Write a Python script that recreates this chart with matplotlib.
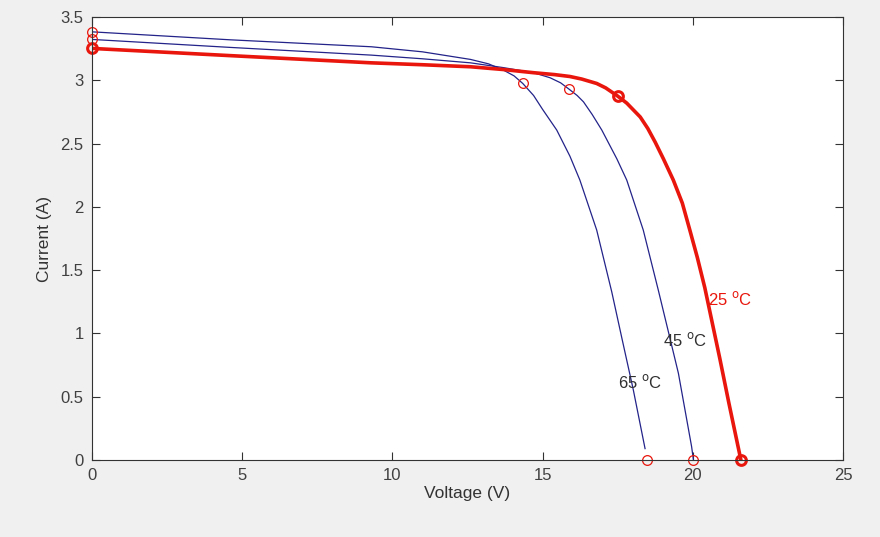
import matplotlib
matplotlib.use('Agg')
import matplotlib.pyplot as plt

plt.rcParams['font.family'] = ['Liberation Sans', 'DejaVu Sans']

# kurva I-V tiap suhu
v65 = [0, 4.6, 9.3, 11.0, 12.6, 13.2, 13.7, 14.05, 14.34, 14.7, 15.0, 15.47, 15.91, 16.24, 16.8, 17.3, 17.65, 18.02, 18.41]
i65 = [3.383, 3.32, 3.265, 3.225, 3.165, 3.13, 3.08, 3.035, 2.975, 2.88, 2.77, 2.607, 2.40, 2.212, 1.817, 1.33, 0.95, 0.553, 0.09]

v45 = [0, 4.6, 9.3, 11.0, 12.6, 13.7, 14.7, 15.25, 15.6, 15.88, 16.15, 16.36, 16.65, 16.97, 17.47, 17.8, 18.35, 18.85, 19.2, 19.52, 19.96, 20.02]
i45 = [3.323, 3.26, 3.199, 3.17, 3.138, 3.10, 3.06, 3.02, 2.98, 2.93, 2.88, 2.83, 2.73, 2.607, 2.38, 2.212, 1.817, 1.343, 1.0, 0.685, 0.105, 0.0]

v25 = [0, 4.6, 9.3, 11.0, 12.6, 13.7, 14.7, 15.4, 15.91, 16.3, 16.8, 17.1, 17.5, 17.8, 18.25, 18.5, 18.75, 19.02, 19.35, 19.65, 19.9, 20.15, 20.4, 20.9, 21.2, 21.6]
i25 = [3.252, 3.195, 3.138, 3.123, 3.107, 3.085, 3.06, 3.045, 3.03, 3.01, 2.975, 2.94, 2.875, 2.82, 2.71, 2.62, 2.51, 2.38, 2.212, 2.03, 1.817, 1.6, 1.36, 0.8, 0.45, 0.0]

# titik Isc, MPP, Voc
isc = [3.383, 3.323, 3.252]
vmp = [14.34, 15.88, 17.5]
imp = [2.975, 2.93, 2.875]
voc = [18.46, 20.02, 21.6]

labels = ['65 $^{\\mathrm{o}}$C', '45 $^{\\mathrm{o}}$C', '25 $^{\\mathrm{o}}$C']
label_v = [17.52, 19.02, 20.5]
label_i = [0.62, 0.95, 1.27]

fig = plt.figure(figsize=(8.8, 5.37), dpi=100, facecolor='#f0f0f0')
ax = fig.add_axes([0.1045, 0.1434, 0.8535, 0.8249])
ax.set_facecolor('white')

blue = '#23238a'
red = '#e8160c'

ax.plot(v65, i65, color=blue, lw=0.9)
ax.plot(v45, i45, color=blue, lw=0.9)
ax.plot(v25, i25, color=red, lw=2.6)

for k in range(3):
    if k < 2:
        ms, mew = 7, 0.9
    else:
        ms, mew = 7, 2.2
    ax.plot([0, vmp[k], voc[k]], [isc[k], imp[k], 0], 'o', ls='none',
            mfc='none', mec=red, ms=ms, mew=mew, clip_on=False)

ax.text(label_v[0], label_i[0], labels[0], color='#303030', fontsize=12, va='center')
ax.text(label_v[1], label_i[1], labels[1], color='#303030', fontsize=12, va='center')
ax.text(label_v[2], label_i[2], labels[2], color=red, fontsize=12, va='center')

ax.set_xlim(0, 25)
ax.set_ylim(0, 3.5)
ax.set_xticks([0, 5, 10, 15, 20, 25])
ax.set_yticks([0, 0.5, 1, 1.5, 2, 2.5, 3, 3.5])
ax.set_yticklabels(['0', '0.5', '1', '1.5', '2', '2.5', '3', '3.5'])
ax.tick_params(direction='in', top=True, right=True, length=6, width=0.8,
               labelsize=12, labelcolor='#404040', color='#333333', pad=6)
for s in ax.spines.values():
    s.set_color('#333333')
    s.set_linewidth(0.8)

ax.set_xlabel('Voltage (V)', fontsize=12.5, color='#333333', labelpad=2)
ax.set_ylabel('Current (A)', fontsize=12.5, color='#333333', labelpad=6)

fig.savefig('out.png', dpi=100, facecolor=fig.get_facecolor())
